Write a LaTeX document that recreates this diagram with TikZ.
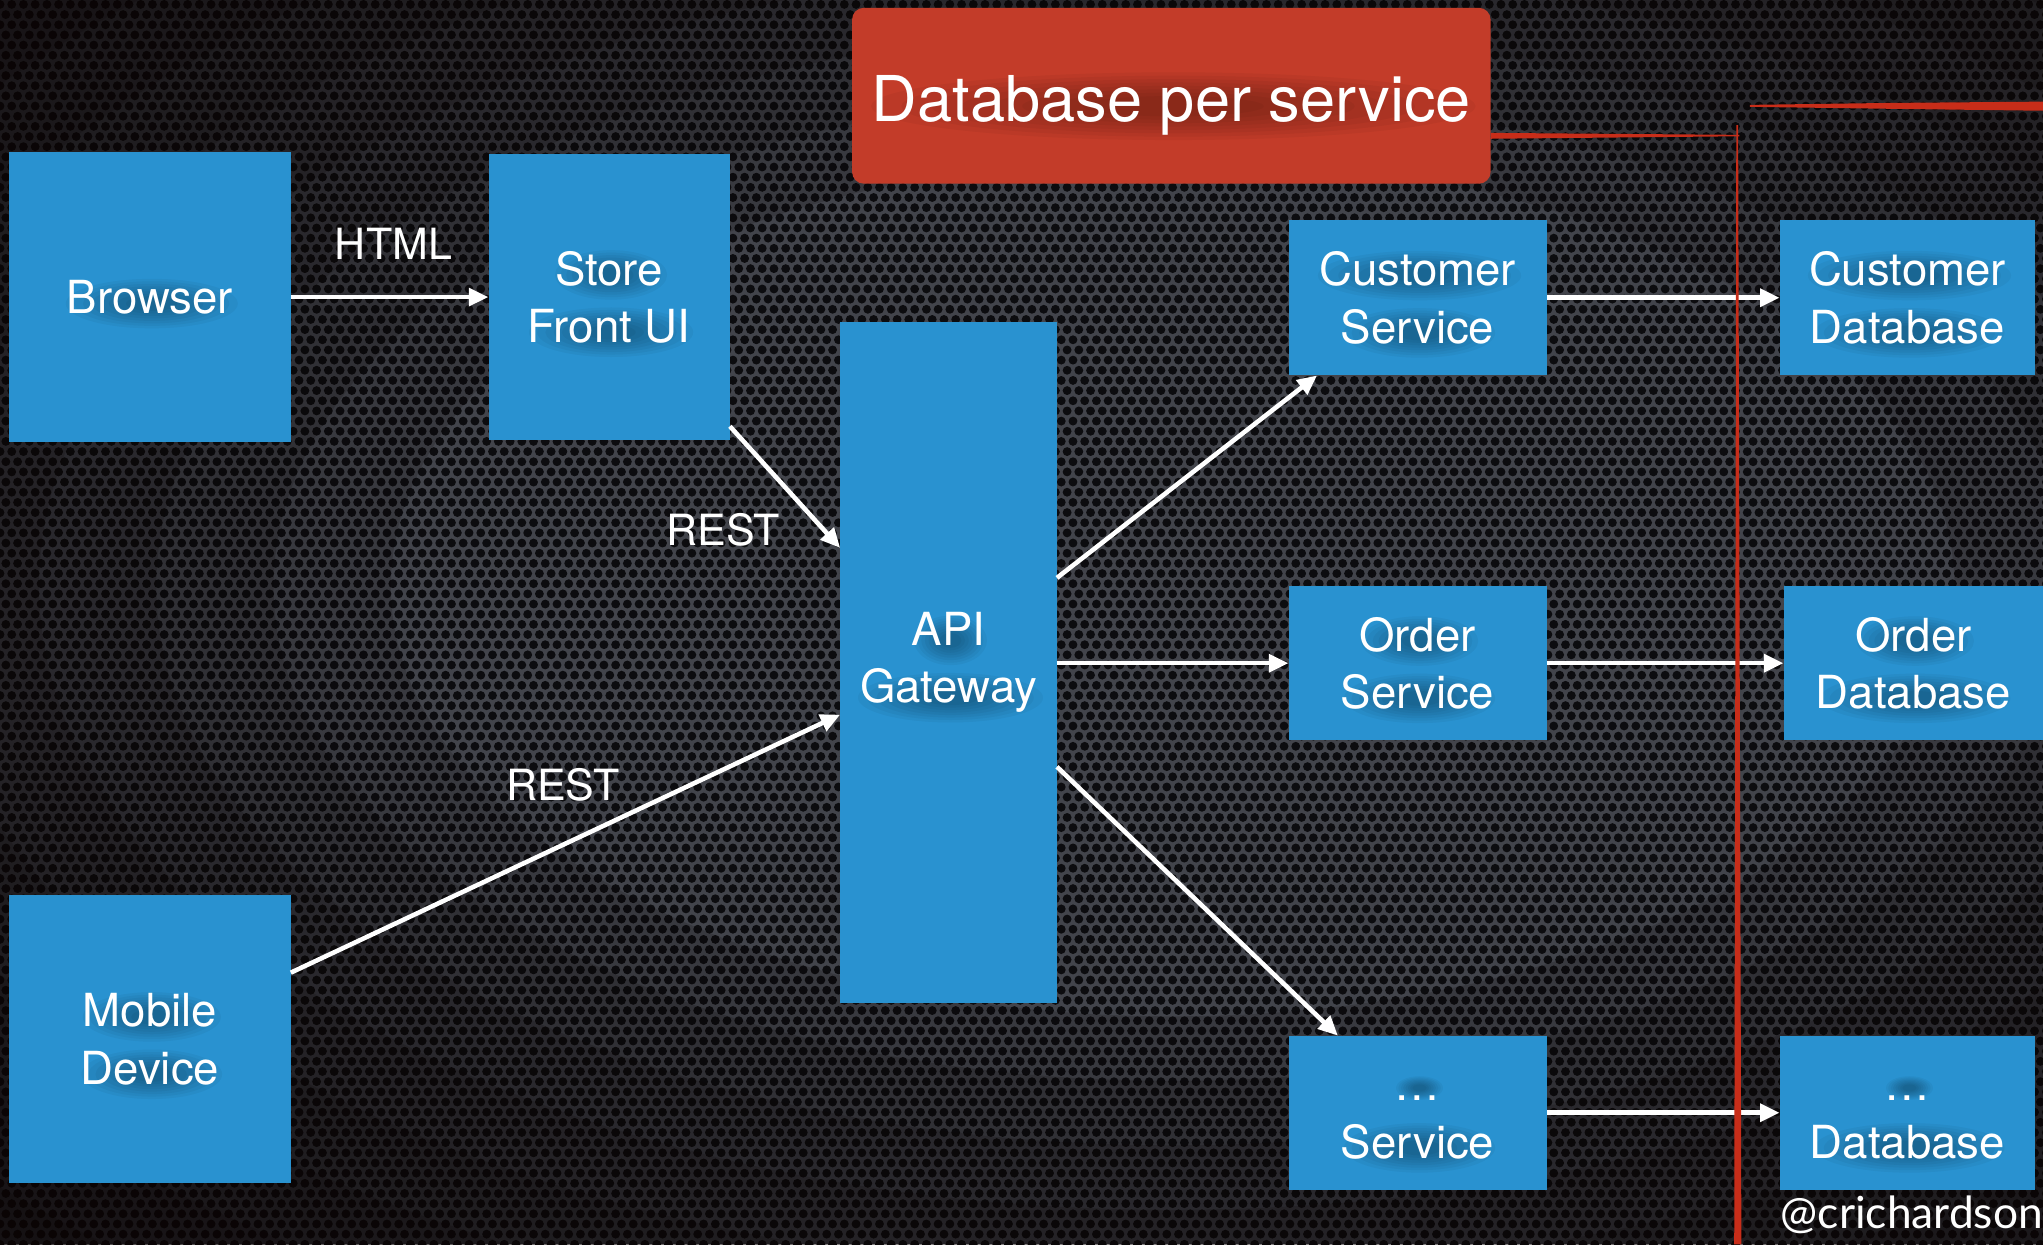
\documentclass[tikz,border=0pt]{standalone}
\usepackage{fontspec}
\setmainfont{TeX Gyre Heros}
\newfontfamily\handlefont{Lato}
\usetikzlibrary{arrows.meta,calc,patterns}

\definecolor{boxblue}{RGB}{41,146,208}
\definecolor{titlered}{RGB}{195,60,41}
\definecolor{linered}{RGB}{200,45,25}
\definecolor{meshgray}{RGB}{66,68,75}
\definecolor{holecol}{RGB}{12,12,15}
\definecolor{vigcol}{RGB}{10,4,4}

% perforated metal: staggered round holes
\pgfdeclarepatternformonly{meshholes}{\pgfpoint{-3.5pt}{-3.5pt}}{\pgfpoint{8pt}{11.3pt}}{\pgfpoint{9pt}{15.6pt}}{%
  \pgfpathcircle{\pgfpoint{0pt}{0pt}}{3.4pt}%
  \pgfpathcircle{\pgfpoint{4.5pt}{7.8pt}}{3.4pt}%
  \pgfusepath{fill}}

% soft dark blur under a line of text: dy below the box centre, half width, half height
\newcommand\smudge[3]{%
  \foreach \f in {1.0,0.9,0.8,0.7,0.6,0.5,0.4,0.3}{%
    \fill[black, opacity=0.04] ($(path picture bounding box.center)+(1.5,#1)$)
      ellipse [x radius={\f*#2pt}, y radius={\f*#3pt}];}}

\begin{document}
\begin{tikzpicture}[x=1pt,y=-1pt,
  box/.style={fill=boxblue, text=white, inner sep=0pt, align=center,
    font=\fontsize{35}{44}\selectfont},
  blur one/.style={path picture={\smudge{5}{#1}{19}}},
  blur two/.style 2 args={path picture={\smudge{-17}{#1}{19}\smudge{27}{#2}{19}}},
  blur dots/.style={path picture={\smudge{-19}{18}{9}\smudge{27}{#1}{19}}},
  lbl/.style={text=white, inner sep=0pt, anchor=base, font=\fontsize{33}{40}\selectfont},
  conn/.style={draw=white, line width=3.5pt, -{Triangle[length=15pt,width=13.5pt]}},
  redstroke/.style={fill=linered, draw=none}]

\useasboundingbox (0,0) rectangle (1568,955);

% background: perforated metal, darker towards the edges
\begin{scope}
  \clip (0,0) rectangle (1568,955);
  \fill[meshgray] (0,0) rectangle (1568,955);
  \fill[pattern=meshholes, pattern color=holecol] (0,0) rectangle (1568,955);
  \foreach \k in {0,...,11}{%
    \pgfmathsetmacro\rx{600+90*\k}%
    \fill[vigcol, opacity=0.16, even odd rule] (-10,-10) rectangle (1578,965)
      (900,450) ellipse [x radius={\rx pt}, y radius={0.55*\rx pt}];}
\end{scope}

% title
\node[fill=titlered, rounded corners=9pt, minimum width=490pt, minimum height=135pt,
  inner sep=0pt, text=white, text height=39pt, text depth=0pt,
  font=\fontsize{48.5}{58}\selectfont,
  path picture={\smudge{8}{232}{26}}] (title) at (899,73.5) {Database per service};

% clients and gateway
\node[box, blur one=66, minimum width=216pt, minimum height=222pt] (browser) at (115,228) {Browser};
\node[box, blur two={43}{63}, minimum width=185pt, minimum height=220pt] (sf) at (467.5,228) {Store\\Front UI};
\node[box, blur two={53}{54}, minimum width=216pt, minimum height=221pt] (mobile) at (115,797.5) {Mobile\\Device};
\node[box, blur two={28}{71}, minimum width=166pt, minimum height=523pt] (api) at (728,508.5) {API\\Gateway};

% services
\node[box, blur two={78}{58}, minimum width=198pt, minimum height=119pt] (cs) at (1088,228.5) {Customer\\Service};
\node[box, blur two={45}{58}, minimum width=198pt, minimum height=118pt] (os) at (1088,509) {Order\\Service};
\node[box, blur dots=58, minimum width=198pt, minimum height=118pt] (xs) at (1088,854) {\vphantom{C}…\\Service};

% databases
\node[box, blur two={78}{73}, minimum width=196pt, minimum height=119pt] (cd) at (1464,228.5) {Customer\\Database};
\node[box, blur two={45}{73}, minimum width=199pt, minimum height=118pt] (od) at (1468.5,509) {Order\\Database};
\node[box, blur dots=73, minimum width=196pt, minimum height=118pt] (xd) at (1464,854) {\vphantom{C}…\\Database};

% connectors
\draw[conn] (browser.east) -- (sf.west);
\draw[conn] ($(sf.south east)+(0,-11)$) -- ($(api.west)+(0,-88)$);
\draw[conn] ($(mobile.east)+(0,-51)$) -- ($(api.west)+(0,40)$);
\draw[conn] ($(api.east)+(0,-65)$) -- ($(cs.south west)+(22,0)$);
\draw[conn] (api.east |- os.west) -- (os.west);
\draw[conn] ($(api.east)+(0,80)$) -- ($(xs.north west)+(38,0)$);
\draw[conn] (cs.east) -- (cd.west);
\draw[conn] (os.east) -- (od.west);
\draw[conn] (xs.east) -- (xd.west);

% connector labels
\node[lbl] (lhtml) at (302,199) {HTML};
\node[lbl] (lrest1) at (555,419) {REST};
\node[lbl] (lrest2) at (432,614) {REST};

% red brush strokes
\fill[redstroke] (title.east |- 0,102) -- (1335,103.5) -- (1335,104.6) -- (title.east |- 0,106.5) -- cycle;
\fill[redstroke] (1343,80.5) -- (1450,79) -- (1568,78) -- (1568,85) -- (1450,83.5) -- (1343,82) -- cycle;
\fill[redstroke] (1332.6,96) -- (1334,96) -- (1336.5,955) -- (1331,955) -- cycle;

% handle
\node[text=white, inner sep=0pt, anchor=base east, font=\handlefont\fontsize{34}{40}\selectfont] (handle) at (1568,943) {@crichardson};
\end{tikzpicture}
\end{document}
